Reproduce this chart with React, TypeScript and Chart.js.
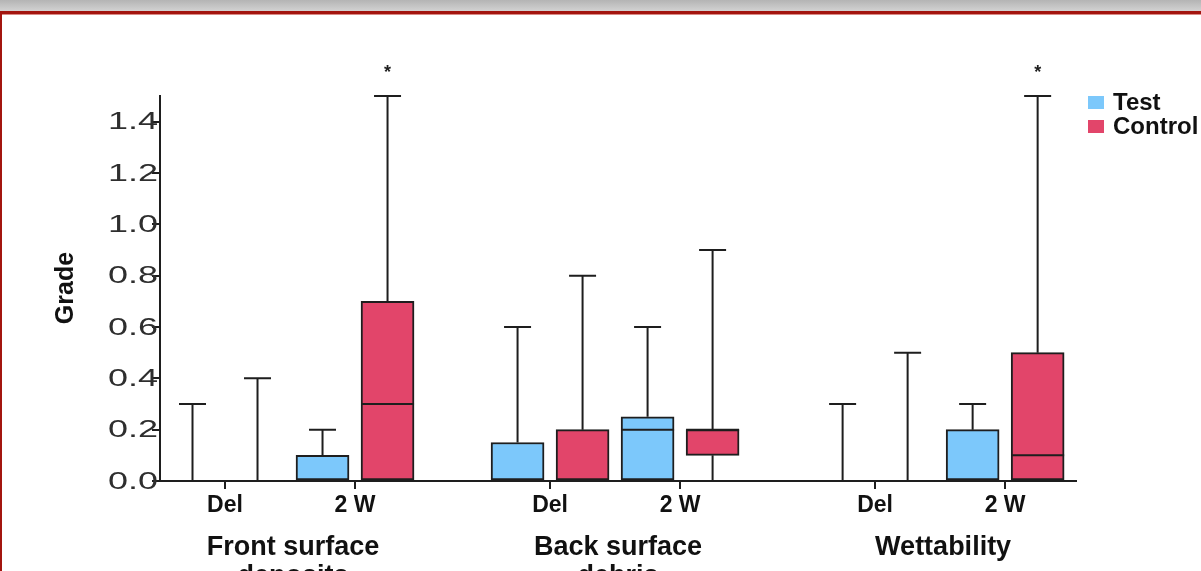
import React, { useEffect, useRef } from "react";
import { Chart, registerables } from "chart.js";

Chart.register(...registerables);

// ---- data ----
const categories = ["Del", "2 W", "Del", "2 W", "Del", "2 W"];
const groupLabels = [["Front surface", "deposits"], ["Back surface", "debris"], ["Wettability"]];
const seriesNames = ["Test", "Control"];

const testMin = [0, 0, 0, 0, 0, 0];
const testQ1 = [0, 0, 0, 0, 0, 0];
const testMedian = [0, 0, 0, 0.2, 0, 0];
const testQ3 = [0, 0.1, 0.15, 0.25, 0, 0.2];
const testMax = [0.3, 0.2, 0.6, 0.6, 0.3, 0.3];

const controlMin = [0, 0, 0, 0, 0, 0];
const controlQ1 = [0, 0, 0, 0.1, 0, 0];
const controlMedian = [0, 0.3, 0, 0.2, 0, 0.1];
const controlQ3 = [0, 0.7, 0.2, 0.2, 0, 0.5];
const controlMax = [0.4, 1.5, 0.8, 0.9, 0.5, 1.5];
const controlSignificant = [false, true, false, false, false, true];

const yTicks = [0, 0.2, 0.4, 0.6, 0.8, 1.0, 1.2, 1.4];
const yMax = 1.5;

// ---- styling ----
const TEST_COLOR = "#7cc8fb";
const CONTROL_COLOR = "#e2456a";
const INK = "#1e1e1e";
const FONT = "'Liberation Sans', Arial, Helvetica, sans-serif";
const BOX_W = 53;
const CAP_W = 27;

// slot index of the category (test box); control box sits one slot right
const slotOf = (i: number) => 2 * i + Math.floor(i / 2);

type BoxStats = { min: number[]; q1: number[]; med: number[]; q3: number[]; max: number[]; sig?: boolean[] };
const stats: BoxStats[] = [
  { min: testMin, q1: testQ1, med: testMedian, q3: testQ3, max: testMax },
  { min: controlMin, q1: controlQ1, med: controlMedian, q3: controlQ3, max: controlMax, sig: controlSignificant },
];

const boxPlugin = {
  id: "boxWhiskers",
  afterDatasetsDraw(chart: any) {
    const { ctx, scales } = chart;
    const xs = scales.x;
    const ys = scales.y;
    ctx.save();
    ctx.strokeStyle = INK;
    ctx.fillStyle = INK;
    ctx.lineWidth = 2;
    stats.forEach((s, d) => {
      categories.forEach((_, i) => {
        const x = xs.getPixelForValue(slotOf(i) + d);
        const pMax = ys.getPixelForValue(s.max[i]);
        const pQ3 = ys.getPixelForValue(s.q3[i]);
        const pQ1 = ys.getPixelForValue(s.q1[i]);
        const pMin = ys.getPixelForValue(s.min[i]);
        const pMed = ys.getPixelForValue(s.med[i]);
        ctx.beginPath();
        ctx.moveTo(x, pQ3);
        ctx.lineTo(x, pMax);
        ctx.moveTo(x - CAP_W / 2, pMax);
        ctx.lineTo(x + CAP_W / 2, pMax);
        if (s.min[i] < s.q1[i]) {
          ctx.moveTo(x, pQ1);
          ctx.lineTo(x, pMin);
        }
        ctx.moveTo(x - BOX_W / 2, pMed);
        ctx.lineTo(x + BOX_W / 2, pMed);
        ctx.stroke();
        if (s.sig && s.sig[i]) {
          ctx.font = `bold 18px ${FONT}`;
          ctx.textAlign = "center";
          ctx.textBaseline = "middle";
          ctx.fillText("*", x, pMax - 23);
        }
      });
    });
    ctx.restore();
  },
  afterDraw(chart: any) {
    const { ctx, scales } = chart;
    const xs = scales.x;
    const ys = scales.y;
    ctx.save();
    // y tick labels (wide face, as in the source)
    ctx.fillStyle = "#2e2e2e";
    ctx.font = `24px ${FONT}`;
    ctx.textAlign = "right";
    ctx.textBaseline = "middle";
    ys.ticks.forEach((t: any) => {
      const py = ys.getPixelForValue(t.value);
      ctx.save();
      ctx.translate(158, py + 1);
      ctx.scale(1.5, 1);
      ctx.fillText(Number(t.value).toFixed(1), 0, 0);
      ctx.restore();
    });
    // group labels
    ctx.fillStyle = "#111";
    ctx.font = `bold 27px ${FONT}`;
    ctx.textAlign = "center";
    groupLabels.forEach((lines, g) => {
      const x = xs.getPixelForValue(slotOf(g * 2) + 1.5);
      lines.forEach((t, k) => ctx.fillText(t, x + 3, 548 + k * 29));
    });
    // y title
    ctx.save();
    ctx.translate(66, 288);
    ctx.rotate(-Math.PI / 2);
    ctx.font = `bold 25px ${FONT}`;
    ctx.fillText("Grade", 0, 0);
    ctx.restore();
    // legend
    ctx.font = `bold 24px ${FONT}`;
    ctx.textAlign = "left";
    chart.data.datasets.forEach((ds: any, k: number) => {
      const y = 102 + k * 24;
      ctx.fillStyle = ds.backgroundColor;
      ctx.fillRect(1088, y - 6, 16, 13);
      ctx.fillStyle = "#111";
      ctx.fillText(ds.label, 1113, y + 1);
    });
    ctx.restore();
  },
};

export default function App() {
  const ref = useRef<HTMLCanvasElement | null>(null);

  useEffect(() => {
    document.body.style.margin = "0";
    const canvas = ref.current;
    if (!canvas) return;
    const datasets = stats.map((s, d) => ({
      label: seriesNames[d],
      data: categories.map((_, i) => ({ x: slotOf(i) + d, y: [s.q1[i], s.q3[i]] })),
      backgroundColor: d === 0 ? TEST_COLOR : CONTROL_COLOR,
      borderColor: INK,
      borderWidth: 2,
      borderSkipped: false,
      barThickness: BOX_W,
      grouped: false,
    }));
    const tickSlots = categories.map((_, i) => slotOf(i) + 0.5);
    const chart = new Chart(canvas, {
      type: "bar",
      data: { datasets: datasets as any },
      options: {
        responsive: false,
        animation: false,
        layout: { padding: { left: 0, right: 125, top: 96, bottom: 0 } },
        plugins: { legend: { display: false }, tooltip: { enabled: false } },
        scales: {
          x: {
            type: "linear",
            min: -0.5,
            max: 13.59,
            offset: false,
            afterBuildTicks: (axis: any) => {
              axis.ticks = tickSlots.map((v) => ({ value: v }));
            },
            afterFit: (axis: any) => {
              axis.height = 90;
            },
            ticks: {
              autoSkip: false,
              maxRotation: 0,
              padding: 3,
              color: "#111",
              font: { family: FONT, size: 23, weight: "bold" },
              callback: (v: any) => {
                const idx = tickSlots.indexOf(Number(v));
                return idx >= 0 ? categories[idx] : "";
              },
            },
            grid: { display: true, offset: false, drawOnChartArea: false, drawTicks: true, tickLength: 8, color: INK, lineWidth: 2 },
            border: { display: true, color: INK, width: 2 },
          },
          y: {
            min: 0,
            max: yMax,
            afterBuildTicks: (axis: any) => {
              axis.ticks = yTicks.map((v) => ({ value: v }));
            },
            afterFit: (axis: any) => {
              axis.width = 160;
            },
            ticks: { display: false },
            grid: { display: true, offset: false, drawOnChartArea: false, drawTicks: true, tickLength: 8, color: INK, lineWidth: 2 },
            border: { display: true, color: INK, width: 2 },
          },
        },
      } as any,
      plugins: [boxPlugin],
    });
    return () => chart.destroy();
  }, []);

  return (
    <div style={{ position: "relative", width: 1201, height: 571, overflow: "hidden", background: "#fff" }}>
      <canvas ref={ref} width={1201} height={571} style={{ position: "absolute", left: 0, top: 0 }} />
      <div style={{ position: "absolute", left: 0, top: 0, width: 1201, height: 11, background: "linear-gradient(#b4b4b4, #d2d2d2)" }} />
      <div style={{ position: "absolute", left: 0, top: 11, width: 1201, height: 3, background: "#a3150f" }} />
      <div style={{ position: "absolute", left: 0, top: 14, width: 1201, height: 1, background: "#d98a86" }} />
      <div style={{ position: "absolute", left: 0, top: 11, width: 2, height: 560, background: "#a3150f" }} />
    </div>
  );
}
